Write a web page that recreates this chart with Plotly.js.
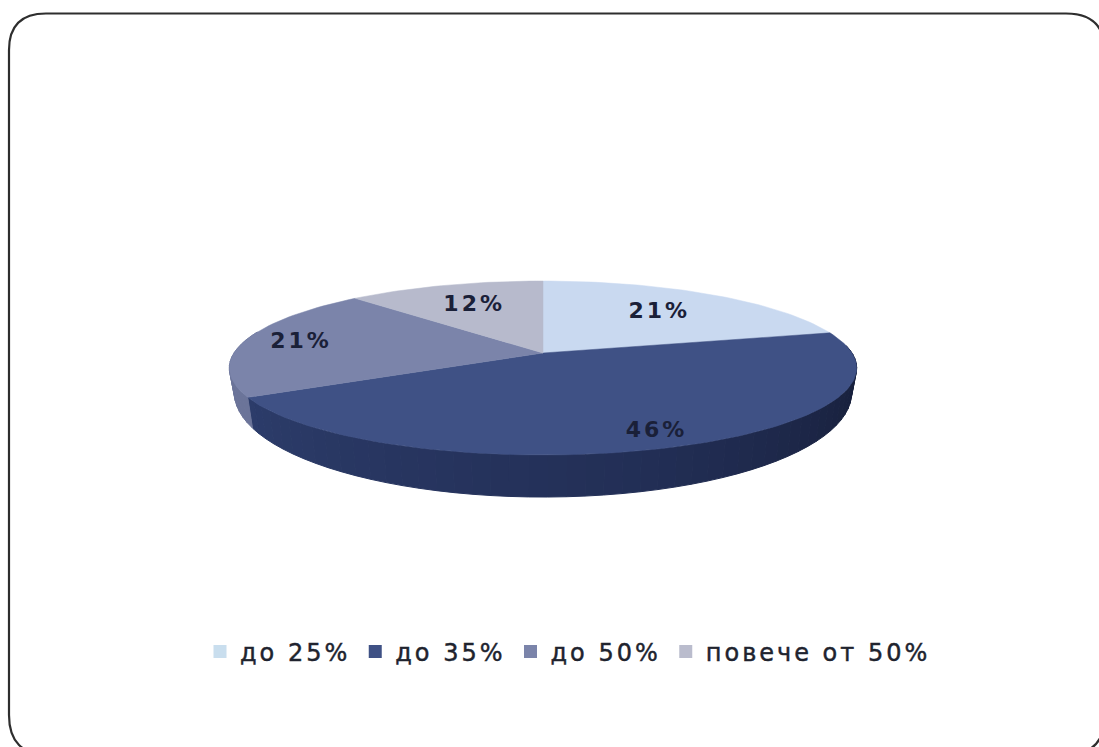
<!DOCTYPE html>
<html>
<head>
<meta charset="utf-8">
<title>Дял по категории</title>
<script src="https://cdn.plot.ly/plotly-3.0.1.min.js"></script>
<style>
  html, body { margin: 0; padding: 0; background: #fff; }
  #chart { width: 1099px; height: 747px; }
  .legendtext { letter-spacing: 3px; stroke: #20232e; stroke-width: 0.45px; }
  .textpoint text { letter-spacing: 3px; }
</style>
</head>
<body>
<div id="chart"></div>
<script>
// Category names and their shares in percent, clockwise from twelve o'clock.
const categories = ['до 25%', 'до 35%', 'до 50%', 'повече от 50%'];
const shares = [21, 46, 21, 12];
const topColors = ['#c9d9f0', '#3f5185', '#7b84aa', '#b7bacc'];
const legendColors = ['#c9deee', '#3f5185', '#7b84aa', '#babccd'];
// Wall shading per slice, left to right along the visible rim.
const wallStops = [
  ['#a9b8d0', '#a9b8d0'],
  ['#2c3c6a', '#222e55', '#141b33'],
  ['#6b7499', '#6b7499'],
  ['#9598a8', '#9598a8']
];
// Radial position of each percentage label, as a fraction of the radius.
const labelRadius = [0.67, 0.86, 0.81, 0.67];

// Perspective projection of the tilted disc onto the page.
const disc = { cx: 543, cy: 353, rx: 309, ry: 84.4, tilt: 0.1724 };
const base = { cx: 543, cy: 375, rx: 304, ry: 101, tilt: 0.1724 };

function project(p, a, r) {
  const u = Math.sin(a) * r, v = Math.cos(a) * r;
  const w = 1 + p.tilt * v;
  return [p.cx + p.rx * u / w, p.cy - p.ry * v / w];
}

function hexToRgb(h) {
  return [1, 3, 5].map(i => parseInt(h.substr(i, 2), 16));
}

function shade(stops, t) {
  const pos = t * (stops.length - 1);
  const i = Math.min(Math.floor(pos), stops.length - 2);
  const f = pos - i;
  const a = hexToRgb(stops[i]), b = hexToRgb(stops[i + 1]);
  const c = a.map((x, k) => Math.round(x + (b[k] - x) * f));
  return `rgb(${c[0]},${c[1]},${c[2]})`;
}

const rad = d => d * Math.PI / 180;
const total = shares.reduce((s, x) => s + x, 0);
const bounds = [0];
shares.forEach(s => bounds.push(bounds[bounds.length - 1] + s / total * 360));

const traces = [];

// Rim walls: narrow facets along the front of the disc give the shading.
const frontStart = 85, frontEnd = 285, facetStep = 3;
shares.forEach((_, i) => {
  const from = Math.max(bounds[i], frontStart), to = Math.min(bounds[i + 1], frontEnd);
  if (to <= from) return;
  const n = Math.max(1, Math.ceil((to - from) / facetStep));
  for (let k = 0; k < n; k++) {
    const a0 = rad(from + (to - from) * k / n);
    const a1 = rad(from + (to - from) * (k + 1) / n);
    const pts = [project(disc, a0, 1), project(disc, a1, 1), project(base, a1, 1), project(base, a0, 1)];
    pts.push(pts[0]);
    const color = shade(wallStops[i], 1 - (k + 0.5) / n);
    traces.push({
      type: 'scatter', mode: 'lines', fill: 'toself', fillcolor: color,
      x: pts.map(p => p[0]), y: pts.map(p => p[1]),
      line: { color: color, width: 1 }, showlegend: false, hoverinfo: 'skip'
    });
  }
});

// Top faces of the slices.
shares.forEach((s, i) => {
  const pts = [project(disc, 0, 0)];
  const n = Math.ceil((bounds[i + 1] - bounds[i]) / 1.5);
  for (let k = 0; k <= n; k++) {
    pts.push(project(disc, rad(bounds[i] + (bounds[i + 1] - bounds[i]) * k / n), 1));
  }
  pts.push(pts[0]);
  traces.push({
    type: 'scatter', mode: 'lines', fill: 'toself', fillcolor: topColors[i],
    x: pts.map(p => p[0]), y: pts.map(p => p[1]),
    line: { color: topColors[i], width: 0.5 }, showlegend: false,
    name: categories[i], text: s + '%', hoverinfo: 'name+text'
  });
});

// Percentage labels placed at each slice's middle angle.
const labelPts = shares.map((_, i) => project(disc, rad((bounds[i] + bounds[i + 1]) / 2), labelRadius[i]));
traces.push({
  type: 'scatter', mode: 'text',
  x: labelPts.map(p => p[0]), y: labelPts.map(p => p[1]),
  text: shares.map(s => s + '%'), textposition: 'middle center',
  textfont: { family: 'DejaVu Sans', size: 22, weight: 'bold', color: '#1a2038' },
  showlegend: false, hoverinfo: 'skip', cliponaxis: false
});

// Legend entries with square keys.
categories.forEach((name, i) => {
  traces.push({
    type: 'scatter', mode: 'markers', x: [null], y: [null], name: name,
    marker: { symbol: 'square', size: 13, color: legendColors[i] }
  });
});

const W = 1099, H = 747;
const layout = {
  width: W, height: H,
  margin: { l: 0, r: 0, t: 0, b: 0 },
  paper_bgcolor: '#ffffff', plot_bgcolor: '#ffffff',
  showlegend: true,
  legend: {
    orientation: 'h', x: 568 / W, xanchor: 'center', y: 1 - 652 / H, yanchor: 'middle',
    font: { family: 'DejaVu Sans', size: 24, color: '#20232e' },
    itemclick: false, itemdoubleclick: false, bgcolor: 'rgba(0,0,0,0)'
  },
  xaxis: { range: [0, W], visible: false, fixedrange: true },
  yaxis: { range: [H, 0], visible: false, fixedrange: true },
  shapes: [{
    type: 'path', xref: 'x', yref: 'y', layer: 'below',
    // Rounded card outline; its right and bottom edges run past the page.
    path: 'M 9 50 Q 9 13.5 46 13.5 L 1066 13.5 Q 1105 13.5 1105 52 L 1105 715 Q 1105 755 1065 755 L 49 755 Q 9 755 9 715 Z',
    line: { color: '#2e2e2e', width: 2.2 }
  }]
};

Plotly.newPlot('chart', traces, layout, { displayModeBar: false });
</script>
</body>
</html>
